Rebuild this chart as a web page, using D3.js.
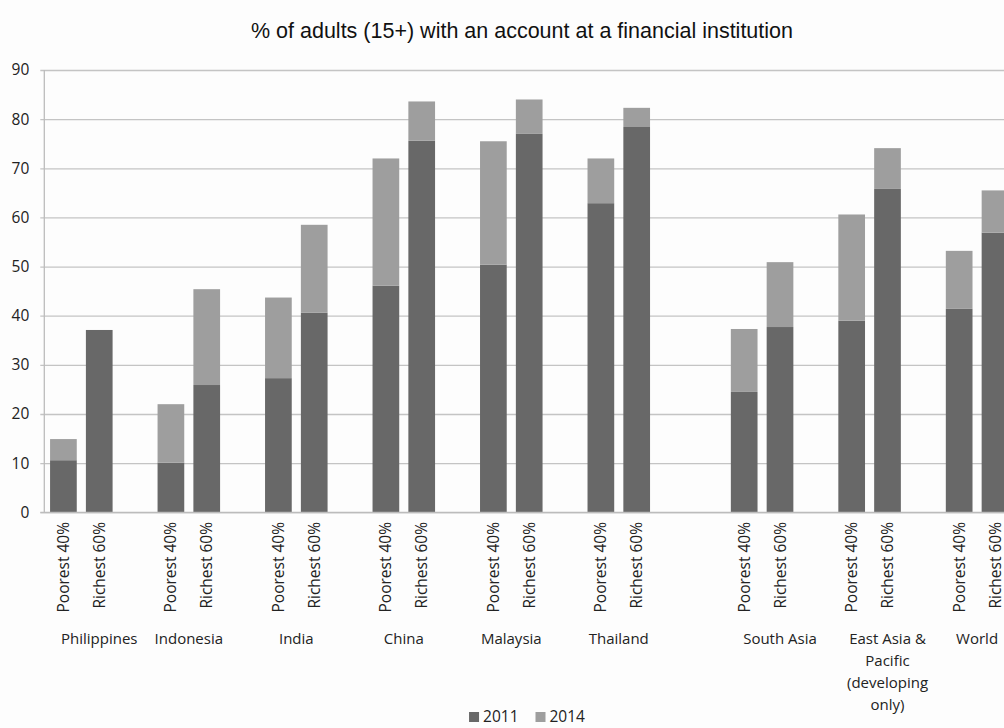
<!DOCTYPE html>
<html>
<head>
<meta charset="utf-8">
<script src="https://cdn.jsdelivr.net/npm/d3@7/dist/d3.min.js"></script>
<style>
  html, body { margin: 0; padding: 0; background: #fdfdfd; }
  svg { display: block; }
</style>
</head>
<body>
<script>
// Account ownership at a financial institution, adults 15+, by income group
const groups = ["Philippines", "Indonesia", "India", "China", "Malaysia", "Thailand",
                "South Asia", "East Asia & Pacific (developing only)", "World"];
const poorest2011 = [10.6, 10.1, 27.3, 46.1, 50.4, 62.9, 24.5, 39.0, 41.4];
const poorest2014 = [14.9, 22.0, 43.7, 72.0, 75.5, 72.0, 37.3, 60.6, 53.2];
const richest2011 = [37.1, 25.9, 40.6, 75.6, 77.0, 78.4, 37.7, 65.8, 56.9];
const richest2014 = [37.1, 45.4, 58.5, 83.6, 84.0, 82.3, 50.9, 74.1, 65.5];

const subLabels = ["Poorest 40%", "Richest 60%"];
const seriesNames = ["2011", "2014"];
const yTicks = [0, 10, 20, 30, 40, 50, 60, 70, 80, 90];

// Category slots along the x axis: group name and which bar (0 poorest, 1 richest, -1 empty)
const EAP = groups[7];
const slotGroup = ["Philippines", "Philippines", "Philippines",
                   "Indonesia", "Indonesia", "",
                   "India", "India", "",
                   "China", "China", "",
                   "Malaysia", "Malaysia", "",
                   "Thailand", "Thailand", "", "",
                   "South Asia", "South Asia", "South Asia",
                   EAP, EAP, EAP,
                   "World", "World"];
const slotBar = [0, 1, -1, 0, 1, -1, 0, 1, -1, 0, 1, -1, 0, 1, -1, 0, 1, -1, -1,
                 0, 1, -1, 0, 1, -1, 0, 1];

const W = 1004, H = 728;
const colors = { s2011: "#686868", s2014: "#9e9e9e" };
const font = "'Open Sans', 'DejaVu Sans', sans-serif";

const svg = d3.select("body").append("svg")
  .attr("width", W).attr("height", H)
  .style("background", "#fdfdfd");

const plotLeft = 44.3, plotTop = 70, plotBottom = 512.3;
const slotStart = 45.5, slotStep = 35.83;

const x = d3.scaleBand()
  .domain(d3.range(slotGroup.length))
  .range([slotStart, slotStart + slotStep * slotGroup.length])
  .paddingInner(0.255)
  .paddingOuter(0.1275);

const y = d3.scaleLinear().domain([0, 90]).range([plotBottom, plotTop]);

// Title
svg.append("text")
  .attr("x", 522).attr("y", 37.5)
  .attr("text-anchor", "middle")
  .style("font-family", "'Liberation Sans', Arial, sans-serif")
  .style("font-size", "21.5px")
  .style("fill", "#111")
  .text("% of adults (15+) with an account at a financial institution");

// Y axis with gridlines
const yAxis = svg.append("g")
  .attr("transform", `translate(${plotLeft},0)`)
  .call(d3.axisLeft(y).tickValues(yTicks).tickSize(-(W - plotLeft)).tickSizeOuter(0).tickPadding(15));
yAxis.select(".domain").remove();
yAxis.selectAll(".tick line")
  .attr("x1", -4)
  .attr("stroke", "#c4c4c4")
  .attr("stroke-width", 1.3);
yAxis.selectAll(".tick text")
  .style("font-family", font)
  .style("font-size", "15.5px")
  .style("fill", "#222");

// Vertical axis line
svg.append("line")
  .attr("x1", plotLeft).attr("x2", plotLeft)
  .attr("y1", y(90)).attr("y2", y(0))
  .attr("stroke", "#bcbcbc").attr("stroke-width", 1.3);

// Bars: dark 2011 segment, light segment up to the 2014 value
const bars = [];
slotBar.forEach((b, i) => {
  if (b < 0) return;
  const gi = groups.indexOf(slotGroup[i]);
  const v11 = b === 0 ? poorest2011[gi] : richest2011[gi];
  const v14 = b === 0 ? poorest2014[gi] : richest2014[gi];
  bars.push({ slot: i, bar: b, v11, v14 });
});

const barG = svg.append("g");
barG.selectAll("rect.s2011").data(bars).join("rect")
  .attr("class", "s2011")
  .attr("x", d => x(d.slot)).attr("width", x.bandwidth())
  .attr("y", d => y(d.v11)).attr("height", d => y(0) - y(d.v11))
  .attr("fill", colors.s2011);
barG.selectAll("rect.s2014").data(bars).join("rect")
  .attr("class", "s2014")
  .attr("x", d => x(d.slot)).attr("width", x.bandwidth())
  .attr("y", d => y(Math.max(d.v11, d.v14)))
  .attr("height", d => y(d.v11) - y(Math.max(d.v11, d.v14)))
  .attr("fill", colors.s2014);

// Baseline
svg.append("line")
  .attr("x1", plotLeft - 4).attr("x2", W)
  .attr("y1", y(0)).attr("y2", y(0))
  .attr("stroke", "#bcbcbc").attr("stroke-width", 1.3);

// Rotated bar labels
svg.append("g").selectAll("text").data(bars).join("text")
  .attr("transform", d => `translate(${x(d.slot) + x.bandwidth() / 2},522) rotate(-90)`)
  .attr("text-anchor", "end")
  .attr("dy", "0.36em")
  .style("font-family", font)
  .style("font-size", "15.5px")
  .style("fill", "#222")
  .text(d => subLabels[d.bar]);

// Group labels centred under their slots, wrapped to the slot span
const groupG = svg.append("g");
groups.forEach(name => {
  const idx = slotGroup.map((g, i) => g === name ? i : -1).filter(i => i >= 0);
  const x0 = x(idx[0]) - x.step() * x.paddingInner() / 2;
  const x1 = x(idx[idx.length - 1]) + x.bandwidth() + x.step() * x.paddingInner() / 2;
  const cx = (x0 + x1) / 2, maxW = x1 - x0;
  const t = groupG.append("text")
    .attr("text-anchor", "middle")
    .style("font-family", font)
    .style("font-size", "15px")
    .style("fill", "#222");
  const words = name.split(" ");
  let line = [], lineNo = 0;
  let ts = t.append("tspan").attr("x", cx).attr("y", 644);
  words.forEach(w => {
    line.push(w);
    ts.text(line.join(" "));
    if (ts.node().getComputedTextLength() > maxW && line.length > 1) {
      line.pop();
      ts.text(line.join(" "));
      line = [w];
      lineNo++;
      ts = t.append("tspan").attr("x", cx).attr("y", 644 + lineNo * 22).text(w);
    }
  });
});

// Legend
const legend = svg.append("g");
let lx = 0;
seriesNames.forEach((s, i) => {
  const g = legend.append("g").attr("transform", `translate(${lx},0)`);
  g.append("rect").attr("x", 0).attr("y", -10).attr("width", 10).attr("height", 10)
    .attr("fill", i === 0 ? colors.s2011 : colors.s2014);
  const tx = g.append("text").attr("x", 14).attr("y", 0)
    .style("font-family", font).style("font-size", "15.5px").style("fill", "#222")
    .text(s);
  lx += 14 + tx.node().getComputedTextLength() + 17;
});
const legW = lx - 17;
legend.attr("transform", `translate(${527 - legW / 2},722)`);
</script>
</body>
</html>
